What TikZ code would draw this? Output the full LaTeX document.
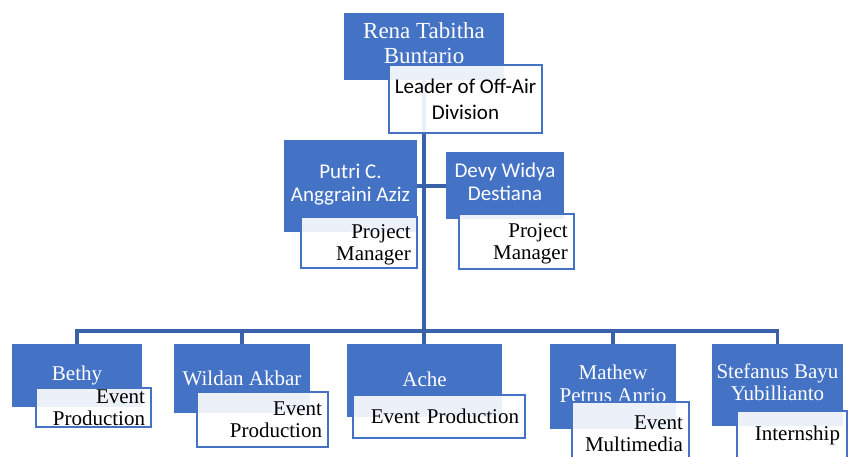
\documentclass[tikz,border=0pt]{standalone}
\usepackage{fontspec}
\setmainfont{Liberation Serif}
\newfontfamily\calfont{Carlito}
\definecolor{boxblue}{HTML}{4472C4}
\definecolor{linkblue}{HTML}{3A62AA}
\tikzset{
  namebox/.style={fill=boxblue, draw=none, inner sep=0pt},
  nametext/.style={text=white, inner sep=0pt, align=center, font=\fontsize{21}{22.5}\selectfont},
  rolebox/.style={fill=white, fill opacity=0.9, text opacity=1, draw=boxblue, draw opacity=1,
    line width=1.6pt, inner xsep=6pt, inner ysep=0pt, text=black,
    font=\fontsize{21}{22}\selectfont},
  roletext/.style={inner sep=0pt, text=black, font=\fontsize{21}{22}\selectfont},
  link/.style={draw=linkblue, line width=3.2pt},
}
\begin{document}
\begin{tikzpicture}[x=1pt,y=-1pt]
\useasboundingbox (0,0) rectangle (848,457);
% name boxes
\node[namebox, minimum width=160pt, minimum height=67pt] (rena) at (424,46.5) {};
\node[namebox, minimum width=133pt, minimum height=92pt] (putri) at (350.5,186) {};
\node[namebox, minimum width=118pt, minimum height=67pt] (devy) at (505,185.5) {};
\node[namebox, minimum width=130pt, minimum height=63pt] (bethy) at (77,375.5) {};
\node[namebox, minimum width=136pt, minimum height=69pt] (wildan) at (242,378.5) {};
\node[namebox, minimum width=155pt, minimum height=73pt] (ache) at (424.5,380.5) {};
\node[namebox, minimum width=126pt, minimum height=85pt] (mathew) at (613,386.5) {};
\node[namebox, minimum width=131pt, minimum height=82pt] (stef) at (777.5,385) {};
\node[nametext, font=\fontsize{23}{25}\selectfont] (renat) at (424,43.5) {Rena Tabitha\\Buntario};
\node[nametext, font=\calfont\fontsize{21}{23}\selectfont] (putrit) at (350.5,185) {Putri C.\\Anggraini Aziz};
\node[nametext, font=\calfont\fontsize{21}{23}\selectfont] (devyt) at (505,182) {Devy Widya\\Destiana};
\node[nametext] (bethyt) at (77,375.5) {Bethy};
\node[nametext] (wildant) at (242,378.5) {Wildan Akbar};
\node[nametext] (achet) at (424.5,379.5) {Ache};
\node[nametext] (mathewt) at (613,384) {Mathew\\Petrus Anrio};
\node[nametext] (steft) at (777.5,382) {Stefanus Bayu\\Yubillianto};
% connectors
\coordinate (bus) at (0,331);
\draw[link] (rena.south) -- (rena.south |- ache.north);
\draw[link] (putri.east) -- (putri.east -| devy.west);
\draw[link] (bethy.north) -- (bethy.north |- bus) -- (stef.north |- bus) -- (stef.north);
\draw[link] (wildan.north) -- (wildan.north |- bus);
\draw[link] (mathew.north) -- (mathew.north |- bus);
% role boxes
\node[rolebox, minimum width=153pt, minimum height=68pt, inner xsep=2pt, align=center, font=\calfont\fontsize{21}{26}\selectfont] (leader) at (465.5,99) {Leader of Off-Air\\Division};
\node[rolebox, minimum width=116pt, minimum height=51pt] (putrirole) at (359,242.5) {};
\node[roletext, anchor=east, align=right] (putriroletext) at (411,245) {Project\\Manager};
\node[rolebox, minimum width=115pt, minimum height=55pt] (devyrole) at (516.5,241.5) {};
\node[roletext, anchor=east, align=right] (devyroletext) at (568,244) {Project\\Manager};
\node[rolebox, minimum width=115pt, minimum height=39pt, text width=103pt, align=right] (bethyrole) at (93.5,407.5) {Event\\Production};
\node[rolebox, minimum width=131pt, minimum height=55pt, text width=119pt, align=right] (wildanrole) at (262.5,419.5) {Event\\Production};
\node[rolebox, minimum width=172pt, minimum height=43pt, text width=160pt, align=right] (acherole) at (439,416.5) {Event Production};
\node[rolebox, minimum width=117pt, minimum height=63pt, text width=105pt, align=right] (mathewrole) at (630.5,433.5) {Event\\Multimedia};
\node[rolebox, minimum width=110pt, minimum height=48pt, text width=96pt, inner xsep=7pt, align=right] (stefrole) at (792,435) {Internship};
\end{tikzpicture}
\end{document}
